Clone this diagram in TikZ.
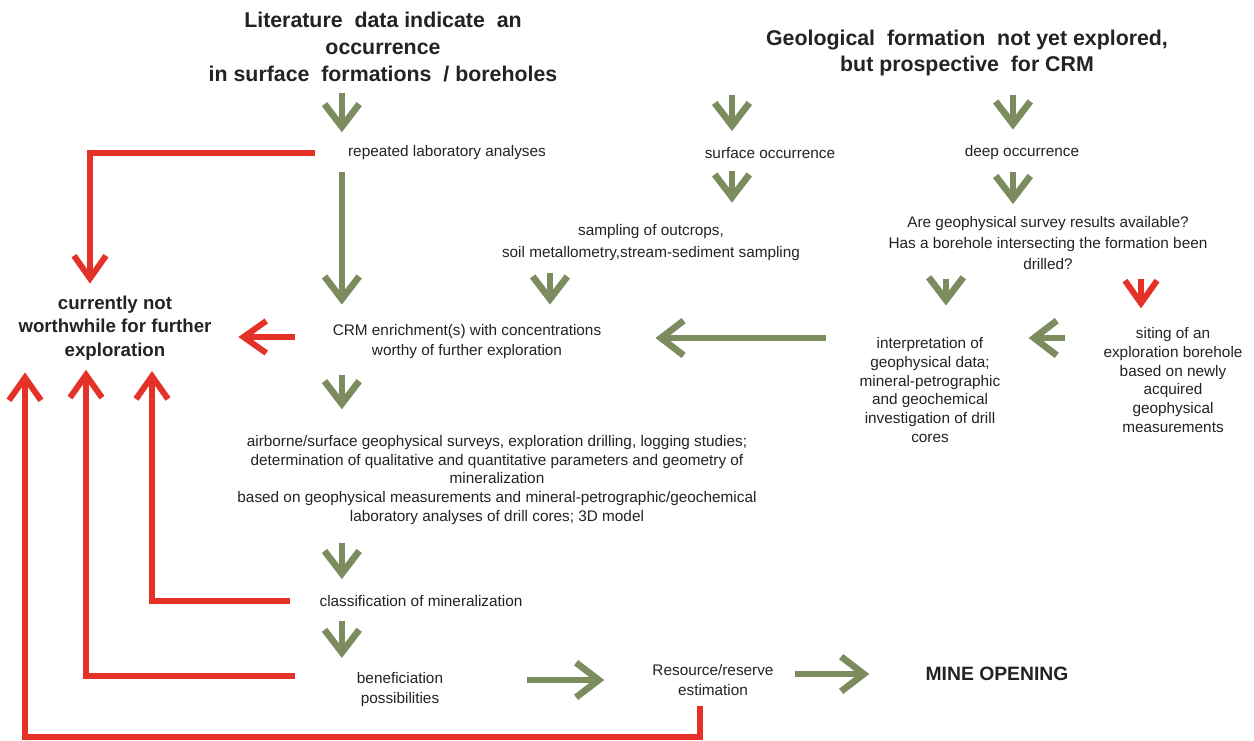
\documentclass[tikz,border=0pt]{standalone}
\usepackage{fontspec}
\setmainfont{Liberation Sans}
\usetikzlibrary{arrows.meta}
\definecolor{moss}{RGB}{124,140,94}
\definecolor{alarm}{RGB}{228,50,40}
\definecolor{ink}{RGB}{35,35,35}
\tikzset{
plaintext/.style={inner sep=0pt, align=center, text=ink,
	font=\fontsize{11.5}{14}\selectfont},
headtext/.style={inner sep=0pt, align=center, text=ink,
	font=\fontsize{16}{20}\selectfont\bfseries},
goarrow/.style={draw=moss, line width=5pt,
	-{Straight Barb[length=17pt,width=26pt]}, shorten <=10pt, shorten >=11pt},
stoparrow/.style={draw=alarm, line width=4.5pt,
	-{Straight Barb[length=17pt,width=24pt]}, shorten <=10pt, shorten >=9pt}
}

\begin{document}
\begin{tikzpicture}[x=0.75pt, y=-0.75pt]
	\fill[white] (0,0) rectangle (1254,740);
	\useasboundingbox (0,0) rectangle (1254,740);
	\node[headtext] (lit) at (383,47) {Literature\ \ data indicate\ \ an\\occurrence\\in surface\ \ formations\ \ / boreholes};
	\node[headtext, font=\fontsize{16}{19.5}\selectfont\bfseries] (geo) at (967,53) {Geological\ \ formation\ \ not yet explored,\\but prospective\ \ for CRM};
	\node[plaintext] (rep) at (447,153) {repeated laboratory analyses};
	\node[plaintext] (surf) at (770,153) {surface occurrence};
	\node[plaintext] (deep) at (1022,153) {deep occurrence};
	\node[plaintext, font=\fontsize{11.5}{16.5}\selectfont] (samp) at (651,243) {sampling of outcrops,\\soil metallometry,stream-sediment sampling};
	\node[plaintext, font=\fontsize{11.5}{15.75}\selectfont] (geoq) at (1048,243) {Are geophysical survey results available?\\Has a borehole intersecting the formation been\\drilled?};
	\node[headtext, font=\fontsize{14}{17.6}\selectfont\bfseries] (notw) at (115,328) {currently not\\worthwhile for further\\exploration};
	\node[plaintext, font=\fontsize{11.5}{15}\selectfont] (crm) at (467,342) {CRM enrichment(s) with concentrations\\worthy of further exploration};
	\node[plaintext] (interp) at (930,390) {interpretation of\\geophysical data;\\mineral-petrographic\\and geochemical\\investigation of drill\\cores};
	\node[plaintext] (siting) at (1173,380) {siting of an\\exploration borehole\\based on newly\\acquired\\geophysical\\measurements};
	\node[plaintext] (air) at (497,480) {airborne/surface geophysical surveys, exploration drilling, logging studies;\\determination of qualitative and quantitative parameters and geometry of\\mineralization\\based on geophysical measurements and mineral-petrographic/geochemical\\laboratory analyses of drill cores; 3D model};
	\node[plaintext] (class) at (421,601) {classification of mineralization};
	\node[plaintext, font=\fontsize{11.5}{15}\selectfont] (benef) at (400,690) {beneficiation\\possibilities};
	\node[plaintext, font=\fontsize{11.5}{15}\selectfont] (resrc) at (713,680) {Resource/reserve\\estimation};
	\node[headtext, font=\fontsize{14.5}{17}\selectfont\bfseries] (mine) at (997,674) {MINE OPENING};

	\coordinate (acol) at ([xshift=-4.5pt]rep.west);
	\coordinate (scol) at ([xshift=-28.5pt]surf.north);
	\coordinate (dcol) at ([xshift=-6.75pt]deep.north);
	\coordinate (mcol) at ([xshift=-75.75pt]samp.south);
	\coordinate (qcol) at ([xshift=-76.5pt]geoq.south);
	\coordinate (rcol) at ([xshift=69.75pt]geoq.south);
	\coordinate (rim) at (25,737);

	\draw[goarrow, shorten <=8pt, shorten >=10pt] (lit.south -| acol) -- (rep.north -| acol);
	\draw[goarrow, shorten <=14pt, shorten >=12pt] (geo.south -| scol) -- (scol);
	\draw[goarrow, shorten <=14pt, shorten >=12pt] (geo.south -| dcol) -- (dcol);
	\draw[goarrow, shorten <=9pt, shorten >=16.5pt] (scol |- surf.south) -- (scol |- samp.north);
	\draw[goarrow, shorten <=9pt, shorten >=9pt] (dcol |- deep.south) -- (dcol |- geoq.north);
	\draw[goarrow, shorten <=9pt, shorten >=15pt] (rep.south -| acol) -- (crm.north -| acol);
	\draw[goarrow, shorten <=9pt, shorten >=15pt] (mcol) -- (mcol |- crm.north);
	\draw[goarrow, shorten <=6.75pt, shorten >=24pt] (qcol) -- (qcol |- interp.north);
	\draw[stoparrow, shorten <=6.75pt, shorten >=14.25pt] (rcol) -- (rcol |- siting.north);
	\draw[goarrow, shorten <=25pt, shorten >=40.5pt] ([yshift=3pt]crm.east -| interp.west) -- ([yshift=3pt]crm.east);
	\draw[goarrow, shorten <=29pt, shorten >=21pt] ([yshift=3pt]crm.east -| siting.west) -- ([yshift=3pt]crm.east -| interp.east);
	\draw[goarrow, shorten <=12pt, shorten >=19.5pt] (crm.south -| acol) -- (air.north -| acol);
	\draw[goarrow, shorten <=13.5pt, shorten >=12pt] (air.south -| acol) -- (class.north -| acol);
	\draw[goarrow, shorten <=10.5pt, shorten >=11pt] (class.south -| acol) -- (benef.north -| acol);
	\draw[goarrow, shorten <=63pt, shorten >=36pt] (resrc.west -| benef.east) -- (resrc.west);
	\draw[goarrow, shorten <=16pt, shorten >=42pt] (mine.west -| resrc.east) -- (mine.west);

	\draw[stoparrow, shorten <=25pt] (rep.west) -| ([xshift=-18.75pt]notw.north);
	\draw[stoparrow, shorten <=28.5pt, shorten >=20pt] ([yshift=3.75pt]crm.west) -- ([yshift=3.75pt]crm.west -| notw.east);
	\draw[stoparrow, shorten <=22pt, shorten >=8pt] (class.west) -| ([xshift=27.75pt]notw.south);
	\draw[stoparrow, shorten <=46.5pt, shorten >=7pt] ([yshift=10.5pt]benef.west) -| ([xshift=-21.75pt]notw.south);
	\draw[stoparrow, shorten <=7.5pt] ([xshift=-9.75pt]resrc.south) |- (rim) -- (rim |- notw.south);
\end{tikzpicture}
\end{document}
